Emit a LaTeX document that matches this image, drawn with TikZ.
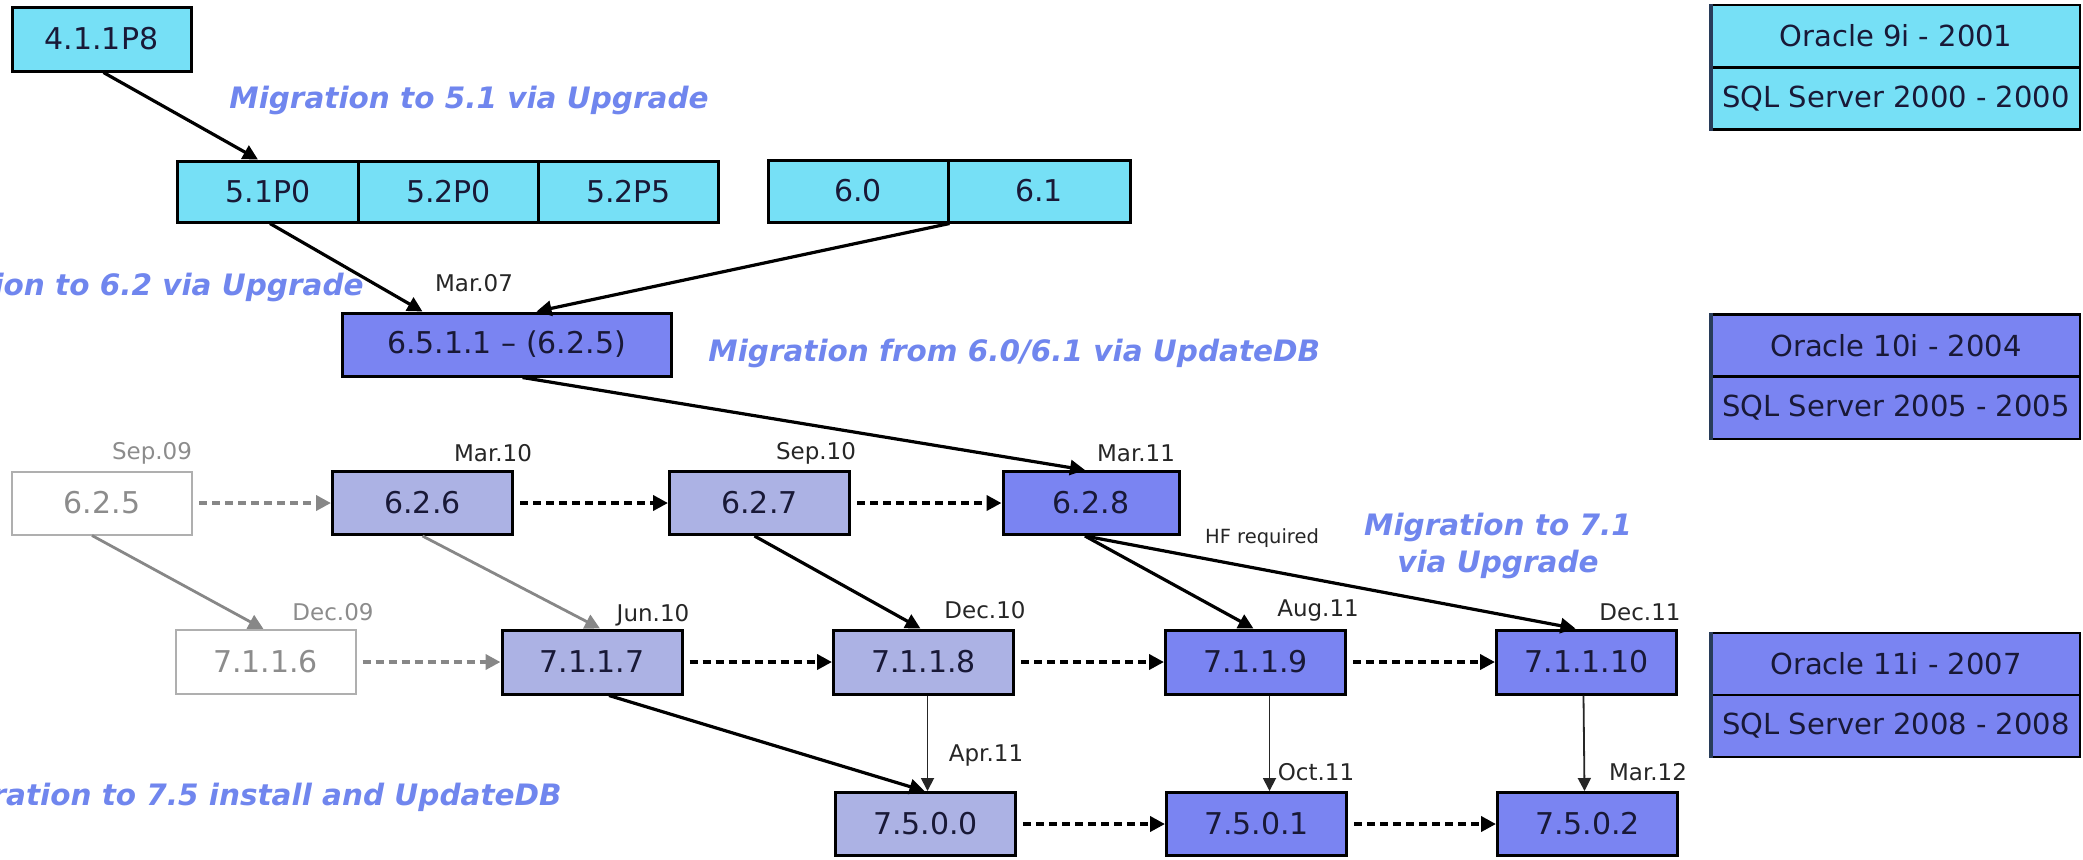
\documentclass[tikz,border=0pt]{standalone}
\usepackage{fontspec}
\setmainfont{DejaVu Sans}
\usetikzlibrary{arrows.meta,calc}
\definecolor{cyanbox}{RGB}{118,224,246}
\definecolor{bluebox}{RGB}{122,132,242}
\definecolor{lavbox}{RGB}{172,178,228}
\definecolor{migr}{RGB}{112,134,238}
\definecolor{boxtext}{RGB}{25,25,55}
\definecolor{grayline}{RGB}{135,135,135}
\definecolor{grayborder}{RGB}{175,175,175}
\definecolor{graytext}{RGB}{140,140,140}
\definecolor{legedge}{RGB}{40,60,90}
\begin{document}
\begin{tikzpicture}[x=0.5pt,y=-0.5pt,
  ver/.style={draw=black,line width=1.5pt,text=boxtext,font=\fontsize{15}{16}\selectfont,inner sep=0pt,minimum width=90pt,minimum height=31.5pt},
  cyanv/.style={ver,fill=cyanbox},
  bluev/.style={ver,fill=bluebox},
  lavv/.style={ver,fill=lavbox},
  grayv/.style={ver,draw=grayborder,line width=1pt,fill=white,text=graytext},
  datelbl/.style={font=\fontsize{11.5}{13}\selectfont,text=black!85,inner sep=0pt},
  graydate/.style={datelbl,text=graytext},
  migtext/.style={font=\fontsize{14.75}{18.5}\selectfont\bfseries\itshape,text=migr,inner sep=0pt},
  legend/.style={draw=black,line width=1.2pt,text=boxtext,font=\fontsize{14.5}{16}\selectfont,inner sep=0pt,minimum width=184pt,minimum height=31pt},
  solidarrow/.style={line width=1.6pt,-{Triangle[length=7.5pt,width=7.5pt]}},
  thinarrow/.style={line width=0.9pt,draw=black!85,-{Triangle[length=6.5pt,width=6.5pt]}},
  grayarrow/.style={line width=1.4pt,draw=grayline,-{Triangle[length=7.5pt,width=7.5pt]}},
  dasharrow/.style={line width=2pt,dash pattern=on 4pt off 2.5pt,shorten <=3pt,-{Triangle[length=7.5pt,width=7.5pt]}},
  graydash/.style={dasharrow,draw=grayline}
]
\useasboundingbox (0,0) rectangle (2083,859);

% top rows
\node[cyanv,minimum width=89.5pt,minimum height=32pt] (n411) at (101.5,39) {4.1.1P8};
\node[cyanv,minimum width=90.25pt,minimum height=30.5pt] (n51) at (268,191.5) {5.1P0};
\node[cyanv,minimum width=90.25pt,minimum height=30.5pt] (n520) at (448.5,191.5) {5.2P0};
\node[cyanv,minimum width=90.25pt,minimum height=30.5pt] (n525) at (628.5,191.5) {5.2P5};
\node[cyanv,minimum width=90pt,minimum height=31pt] (n60) at (858,191) {6.0};
\node[cyanv,minimum width=91pt,minimum height=31pt] (n61) at (1039,191) {6.1};
\node[bluev,minimum width=164.5pt,minimum height=31.5pt] (n651) at (506.5,344.5) {6.5.1.1 – (6.2.5)};

% row 3
\node[grayv] (n625) at (102,503) {6.2.5};
\node[lavv] (n626) at (422.5,503) {6.2.6};
\node[lavv] (n627) at (759.5,503) {6.2.7};
\node[bluev,minimum width=88pt] (n628) at (1091,503) {6.2.8};

% row 4
\node[grayv,minimum height=32pt] (n7116) at (265.5,662) {7.1.1.6};
\node[lavv,minimum height=32pt] (n7117) at (592,662) {7.1.1.7};
\node[lavv,minimum height=32pt] (n7118) at (923.5,662) {7.1.1.8};
\node[bluev,minimum height=32pt] (n7119) at (1255.5,662) {7.1.1.9};
\node[bluev,minimum height=32pt] (n71110) at (1586.5,662) {7.1.1.10};

% row 5
\node[lavv] (n7500) at (925.5,824) {7.5.0.0};
\node[bluev] (n7501) at (1256.5,824) {7.5.0.1};
\node[bluev] (n7502) at (1587.5,824) {7.5.0.2};

% legend
\node[legend,fill=cyanbox] (o9) at (1896,36) {Oracle 9i - 2001};
\node[legend,fill=cyanbox] (s2000) at (1896,98.5) {SQL Server 2000 - 2000};
\node[legend,fill=bluebox] (o10) at (1896,345.5) {Oracle 10i - 2004};
\node[legend,fill=bluebox] (s2005) at (1896,408) {SQL Server 2005 - 2005};
\node[legend,fill=bluebox] (o11) at (1896,664) {Oracle 11i - 2007};
\node[legend,fill=bluebox] (s2008) at (1896,726) {SQL Server 2008 - 2008};
\draw[legedge,line width=2pt] (o9.north west) -- (s2000.south west);
\draw[legedge,line width=2pt] (o10.north west) -- (s2005.south west);
\draw[legedge,line width=2pt] (o11.north west) -- (s2008.south west);

% dates
\node[datelbl] (d07) at (474,283) {Mar.07};
\node[graydate] (ds09) at (152,453) {Sep.09};
\node[datelbl] (dm10) at (493,453) {Mar.10};
\node[datelbl] (ds10) at (816,453) {Sep.10};
\node[datelbl] (dm11) at (1136,453) {Mar.11};
\node[graydate] (dd09) at (333,612) {Dec.09};
\node[datelbl] (dj10) at (653,615) {Jun.10};
\node[datelbl] (dd10) at (985,610) {Dec.10};
\node[datelbl] (da11) at (1318,610) {Aug.11};
\node[datelbl] (dd11) at (1640,612) {Dec.11};
\node[datelbl] (dap11) at (986,755) {Apr.11};
\node[datelbl] (do11) at (1316,772) {Oct.11};
\node[datelbl] (dm12) at (1648,772) {Mar.12};
\node[datelbl,font=\fontsize{9.75}{11}\selectfont] (hf) at (1262,538) {HF required};

% migration texts
\node[migtext,anchor=west] (m51) at (229,100) {Migration to 5.1 via Upgrade};
\node[migtext,anchor=east] (m62) at (364,287) {Migration to 6.2 via Upgrade};
\node[migtext,anchor=west] (m60) at (708,353) {Migration from 6.0/6.1 via UpdateDB};
\node[migtext,align=center] (m71) at (1498,546) {Migration to 7.1\\via Upgrade};
\node[migtext,anchor=east] (m75) at (562,797) {Migration to 7.5 install and UpdateDB};

% arrows
\draw[solidarrow] ($(n411.south)+(2,0)$) -- ($(n51.north)+(-10,0)$);
\draw[solidarrow] ($(n51.south)+(2,0)$) -- ($(n651.north)+(-84,0)$);
\draw[solidarrow] (n60.south east) -- ($(n651.north)+(30,0)$);
\draw[solidarrow] ($(n651.south)+(16,0)$) -- ($(n628.north)+(-6,0)$);

\draw[graydash] (n625) -- (n626);
\draw[dasharrow] (n626) -- (n627);
\draw[dasharrow] (n627) -- (n628);

\draw[grayarrow] ($(n625.south)+(-10,0)$) -- ($(n7116.north)+(-2,0)$);
\draw[grayarrow] (n626.south) -- ($(n7117.north)+(8,0)$);

\draw[graydash] (n7116) -- (n7117);
\draw[dasharrow] (n7117) -- (n7118);
\draw[dasharrow] (n7118) -- (n7119);
\draw[dasharrow] (n7119) -- (n71110);

\draw[solidarrow] ($(n627.south)+(-5,0)$) -- ($(n7118.north)+(-3,0)$);
\draw[solidarrow] ($(n628.south)+(-6,0)$) -- ($(n7119.north)+(-2,0)$);
\draw[solidarrow] ($(n628.south)+(-6,0)$) -- ($(n71110.north)+(-11,0)$);
\draw[solidarrow] ($(n7117.south)+(17,0)$) -- ($(n7500.north)+(-1,0)$);

\draw[thinarrow] ($(n7118.south)+(4,0)$) -- ($(n7500.north)+(2,0)$);
\draw[thinarrow] ($(n7119.south)+(14,0)$) -- ($(n7501.north)+(13,0)$);
\draw[thinarrow] ($(n71110.south)+(-3,0)$) -- ($(n7502.north)+(-3,0)$);

\draw[dasharrow] (n7500) -- (n7501);
\draw[dasharrow] (n7501) -- (n7502);
\end{tikzpicture}
\end{document}
